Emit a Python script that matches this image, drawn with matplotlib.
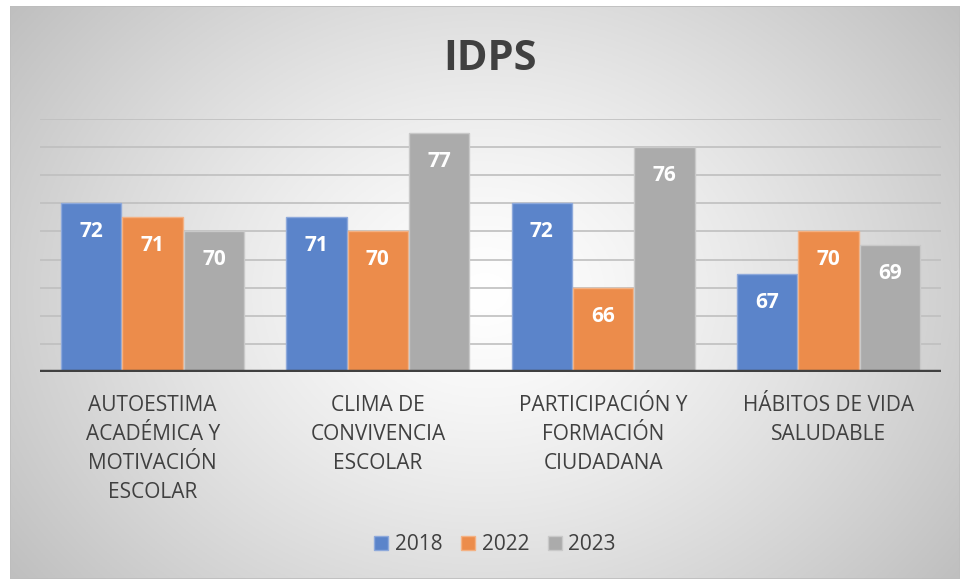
import numpy as np
import matplotlib
matplotlib.use("Agg")
import matplotlib.pyplot as plt
from matplotlib.patches import Rectangle
from matplotlib.transforms import blended_transform_factory

# ---- data ----
categories = ["AUTOESTIMA\nACADÉMICA Y\nMOTIVACIÓN\nESCOLAR",
              "CLIMA DE\nCONVIVENCIA\nESCOLAR",
              "PARTICIPACIÓN Y\nFORMACIÓN\nCIUDADANA",
              "HÁBITOS DE VIDA\nSALUDABLE"]
series_names = ["2018", "2022", "2023"]
values_2018 = [72, 71, 72, 67]
values_2022 = [71, 70, 66, 70]
values_2023 = [70, 77, 76, 69]
title = "IDPS"

colors = ["#5B84CA", "#EC8C4B", "#ABABAB"]
edge_colors = ["#8EA9DB", "#F4B183", "#C9C9C9"]
text_color = "#404040"
font = "Open Sans"

W, H = 960, 579
fig = plt.figure(figsize=(W / 100, H / 100), dpi=100)
fig.patch.set_facecolor("white")

# ---- background radial gradient (chart area) ----
bx0, by0, bx1, by1 = 10, 0, 960, 573  # in pixels from bottom-left
bg_ax = fig.add_axes([bx0 / W, by0 / H, (bx1 - bx0) / W, (by1 - by0) / H])
nx, ny = 400, 240
xx, yy = np.meshgrid(np.linspace(-1, 1, nx), np.linspace(-1, 1, ny))
r = np.sqrt((xx * 1.0) ** 2 + (yy * 0.75) ** 2) / np.sqrt(1 + 0.75 ** 2)
g = 255 - 64 * np.clip(r, 0, 1) ** 1.3
g = g / 255.0
img = np.dstack([g, g, g])
bg_ax.imshow(img, extent=[0, 1, 0, 1], aspect="auto", origin="lower")
bg_ax.add_patch(Rectangle((0, 0), 1, 1, fill=False, edgecolor="#bdbdbd",
                          linewidth=1.2, transform=bg_ax.transAxes))
bg_ax.set_axis_off()

# ---- main axes ----
ax_left, ax_right = 40, 941
ax_top, ax_bottom = 119, 372  # pixels from top
ax = fig.add_axes([ax_left / W, (H - ax_bottom) / H,
                   (ax_right - ax_left) / W, (ax_bottom - ax_top) / H])
ax.patch.set_alpha(0)

ymin, ymax = 60, 78
ax.set_ylim(ymin, ymax)
ax.set_xlim(-0.5, len(categories) - 0.5)

n = len(series_names)
bw = 1 / (n + 0.67)
x = np.arange(len(categories))
all_vals = [values_2018, values_2022, values_2023]

for yv in np.arange(62, 79, 2):
    ax.axhline(yv, color="#bfbfbf", linewidth=1.2, zorder=1)

bars_list = []
for i, (name, vals) in enumerate(zip(series_names, all_vals)):
    pos = x + (i - (n - 1) / 2) * bw
    bars = ax.bar(pos, np.array(vals) - ymin, bottom=ymin, width=bw * 0.985,
                  color=colors[i], edgecolor=edge_colors[i], linewidth=1.0,
                  label=name, zorder=2)
    bars_list.append(bars)
    for p, v in zip(pos, vals):
        ax.annotate(str(v), xy=(p, v), xytext=(0, -20.5), textcoords="offset points",
                    ha="center", va="center", color="white", fontsize=15,
                    fontweight="bold", family=font, zorder=3)

ax.axhline(ymin, color="#404040", linewidth=3.2, zorder=4)

for s in ax.spines.values():
    s.set_visible(False)
ax.set_xticks([])
ax.set_yticks([])

trans = blended_transform_factory(ax.transData, ax.transAxes)
for xi, lab in zip(x, categories):
    ax.text(xi, -23 / 253, lab, transform=trans, ha="center", va="top",
            fontsize=15, color=text_color, family=font, linespacing=1.5)

fig.text(490 / W, 1 - 59 / H, title, ha="center", va="center", fontsize=30,
         fontweight="bold", color=text_color, family=font)

leg = fig.legend(handles=bars_list, labels=series_names, loc="center",
                 bbox_to_anchor=(495 / W, 1 - 545 / H), ncol=3, frameon=False,
                 prop={"family": font, "size": 15}, handlelength=0.68,
                 handleheight=0.68, handletextpad=0.3, columnspacing=0.9,
                 labelcolor=text_color)

fig.savefig("out.png", dpi=100)
